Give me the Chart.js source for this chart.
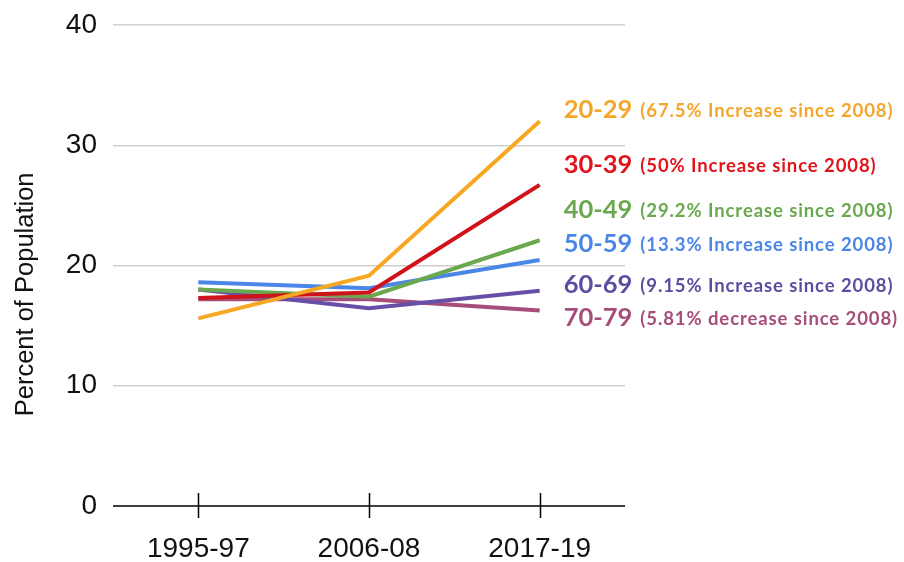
<!DOCTYPE html>
<html>
<head>
<meta charset="utf-8">
<script src="https://cdn.jsdelivr.net/npm/chart.js@4.4.1/dist/chart.umd.min.js"></script>
<style>
  html, body { margin: 0; padding: 0; background: #fff; }
  #wrap { width: 904px; height: 562px; position: relative; }
</style>
</head>
<body>
<div id="wrap"><canvas id="chart"></canvas></div>
<script>
// --- data ---
const categories = ['1995-97', '2006-08', '2017-19'];
const age20s = [15.6, 19.15, 32.0];
const age30s = [17.3, 17.75, 26.7];
const age40s = [18.0, 17.4, 22.1];
const age50s = [18.6, 18.1, 20.45];
const age60s = [18.0, 16.45, 17.9];
const age70s = [17.2, 17.2, 16.25];
const yTicks = [0, 10, 20, 30, 40];

const groupNames = ['20-29', '30-39', '40-49', '50-59', '60-69', '70-79'];
const groupNotes = [
  '(67.5% Increase since 2008)',
  '(50% Increase since 2008)',
  '(29.2% Increase since 2008)',
  '(13.3% Increase since 2008)',
  '(9.15% Increase since 2008)',
  '(5.81% decrease since 2008)'
];
const yTitle = 'Percent of Population';

const lineColors = ['#f6a823', '#d0131a', '#6aa84f', '#4a86e8', '#674ea7', '#a64d79'];
const textColors = ['#f4a62a', '#e0141a', '#6aa84f', '#4a86e8', '#5b4da0', '#a64d79'];
// where each label's baseline sits, in y-axis units
const labelLevels = [32.27, 27.69, 23.95, 21.1, 17.75, 14.93];

const series = [age20s, age30s, age40s, age50s, age60s, age70s];

// right-hand labels, y title, axis tick crosses
const sideLabels = {
  id: 'sideLabels',
  afterDraw(chart) {
    const { ctx, scales: { x, y }, chartArea } = chart;
    ctx.save();
    // x axis line and crosses
    ctx.strokeStyle = '#000';
    ctx.lineWidth = 1.5;
    ctx.beginPath();
    ctx.moveTo(chartArea.left, chartArea.bottom);
    ctx.lineTo(chartArea.right, chartArea.bottom);
    categories.forEach((c, i) => {
      const px = Math.round(x.getPixelForValue(i)) + 0.5;
      ctx.moveTo(px, chartArea.bottom - 13);
      ctx.lineTo(px, chartArea.bottom + 12);
    });
    ctx.stroke();

    // y title (sits a bit below the middle in the original)
    ctx.save();
    ctx.translate(26, y.getPixelForValue(17.6));
    ctx.rotate(-Math.PI / 2);
    ctx.textAlign = 'center';
    ctx.textBaseline = 'middle';
    ctx.fillStyle = '#111';
    ctx.font = '25.5px "Liberation Sans"';
    ctx.fillText(yTitle, 0, 0);
    ctx.restore();

    const xStart = x.getPixelForValue(categories.length - 1) + 24;
    ctx.textBaseline = 'alphabetic';
    ctx.textAlign = 'left';
    groupNames.forEach((name, i) => {
      const py = y.getPixelForValue(labelLevels[i]);
      ctx.fillStyle = textColors[i];
      ctx.font = 'bold 25.5px Lato';
      ctx.letterSpacing = '0px';
      ctx.fillText(name, xStart, py);
      const w = ctx.measureText(name).width;
      ctx.font = 'bold 18.5px Lato';
      ctx.letterSpacing = '0.9px';
      ctx.fillText(groupNotes[i], xStart + w + 8, py - 1);
    });
    ctx.restore();
  }
};

new Chart(document.getElementById('chart'), {
  type: 'line',
  data: {
    labels: categories,
    datasets: series.map((vals, i) => ({
      label: groupNames[i],
      data: vals,
      borderColor: lineColors[i],
      backgroundColor: lineColors[i],
      borderWidth: 4,
      pointRadius: 0,
      tension: 0
    }))
  },
  options: {
    responsive: true,
    maintainAspectRatio: false,
    animation: false,
    layout: { padding: { top: 25, right: 279, left: 0, bottom: 0 } },
    plugins: { legend: { display: false }, tooltip: { enabled: false } },
    scales: {
      x: {
        offset: true,
        grid: { display: false },
        border: { display: false },
        ticks: {
          color: '#111',
          font: { family: 'Liberation Sans', size: 28 },
          padding: 18,
          maxRotation: 0
        },
        afterFit(scale) {
          scale.height = 56;
          scale.paddingLeft = 0;
          scale.paddingRight = 0;
        }
      },
      y: {
        min: 0,
        max: 40,
        afterBuildTicks(scale) { scale.ticks = yTicks.map(v => ({ value: v })); },
        grid: {
          color: ctx => ctx.tick && ctx.tick.value === 0 ? 'rgba(0,0,0,0)' : '#cfcfcf',
          lineWidth: 1.5,
          drawTicks: false
        },
        border: { display: false },
        ticks: {
          color: '#111',
          font: { family: 'Liberation Sans', size: 28 },
          padding: 16
        },
        afterFit(scale) {
          scale.width = 113;
          scale.paddingTop = 0;
          scale.paddingBottom = 0;
        }
      }
    }
  },
  plugins: [sideLabels]
});
</script>
</body>
</html>
